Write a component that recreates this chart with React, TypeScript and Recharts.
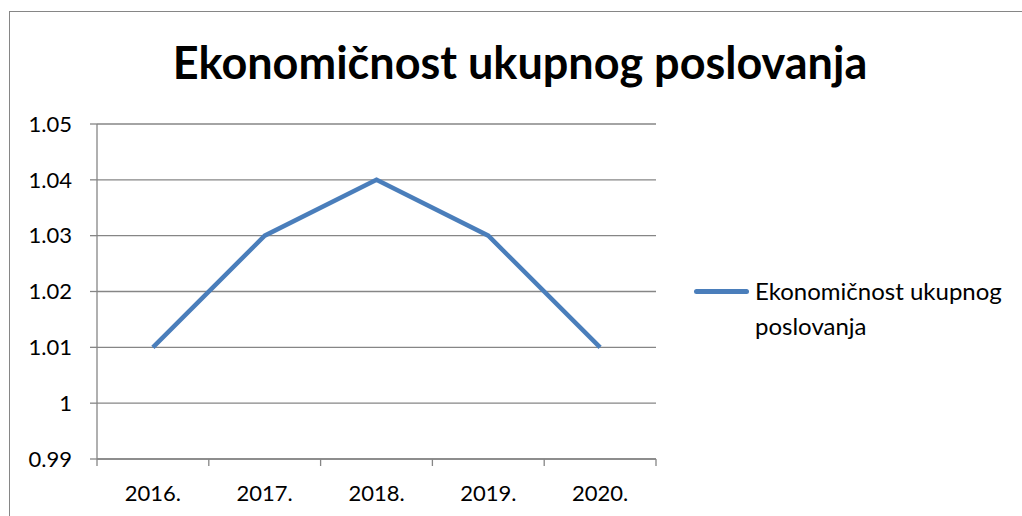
import React from "react";
import { LineChart, Line, XAxis, YAxis, CartesianGrid } from "recharts";

const categories = ["2016.", "2017.", "2018.", "2019.", "2020."];
const values = [1.01, 1.03, 1.04, 1.03, 1.01];
const yTicks = [0.99, 1, 1.01, 1.02, 1.03, 1.04, 1.05];
const seriesName = "Ekonomičnost ukupnog poslovanja";
const title = "Ekonomičnost ukupnog poslovanja";

// each category occupies one unit band; the point sits in the band centre
const data = categories.map((c, i) => ({ year: c, pos: i + 0.5, value: values[i] }));
const xTicks: number[] = [];
categories.forEach((_, i) => {
  xTicks.push(i, i + 0.5);
});
xTicks.push(categories.length);

const FONT = "Lato, 'Open Sans', sans-serif";
const GRAY = "#868686";
const BLUE = "#4A7EBB";

const XTick = (props: any) => {
  const { x, y, payload } = props;
  const v = payload.value as number;
  if (Number.isInteger(v)) {
    return <line x1={x} x2={x} y1={y} y2={y + 7} stroke={GRAY} strokeWidth={1.3} />;
  }
  return (
    <text x={x} y={y + 42} textAnchor="middle" fill="#000" fontSize={22} fontFamily={FONT}>
      {categories[Math.floor(v)]}
    </text>
  );
};

export default function App() {
  return (
    <div style={{ position: "fixed", left: 0, top: 0, width: 1022, height: 516, overflow: "hidden", background: "#fff" }}>
      <div style={{ position: "absolute", left: 9, top: 11, width: 1030, height: 530, border: `1px solid ${GRAY}`, boxSizing: "border-box" }} />
      <div style={{ position: "absolute", left: 0, top: 35, width: 1040, textAlign: "center", fontFamily: FONT, fontWeight: 700, fontSize: 45, color: "#000", lineHeight: "54px" }}>
        {title}
      </div>
      <div style={{ position: "absolute", left: 0, top: 0 }}>
        <LineChart width={1022} height={516} data={data} margin={{ top: 124, left: 37, right: 366, bottom: 27 }}>
          <CartesianGrid vertical={false} stroke={GRAY} strokeWidth={1.3} />
          <XAxis
            dataKey="pos"
            type="number"
            domain={[0, categories.length]}
            ticks={xTicks}
            interval={0}
            tick={XTick}
            tickLine={false}
            tickSize={0}
            tickMargin={0}
            height={30}
            stroke={GRAY}
            strokeWidth={1.3}
            allowDataOverflow
          />
          <YAxis
            domain={[0.99, 1.05]}
            ticks={yTicks}
            width={60}
            tickSize={7}
            tickMargin={18}
            stroke={GRAY}
            strokeWidth={1.3}
            tick={{ fill: "#000", fontSize: 22, fontFamily: FONT }}
            interval={0}
          />
          <Line
            dataKey="value"
            name={seriesName}
            stroke={BLUE}
            strokeWidth={4.5}
            dot={false}
            isAnimationActive={false}
          />
        </LineChart>
      </div>
      <div style={{ position: "absolute", left: 694, top: 273, display: "flex", alignItems: "flex-start", fontFamily: FONT, fontSize: 24, color: "#000" }}>
        <div style={{ width: 55, height: 5, background: BLUE, borderRadius: 3, marginTop: 16, marginRight: 6 }} />
        <div style={{ lineHeight: "35px", width: 270 }}>{seriesName}</div>
      </div>
    </div>
  );
}
